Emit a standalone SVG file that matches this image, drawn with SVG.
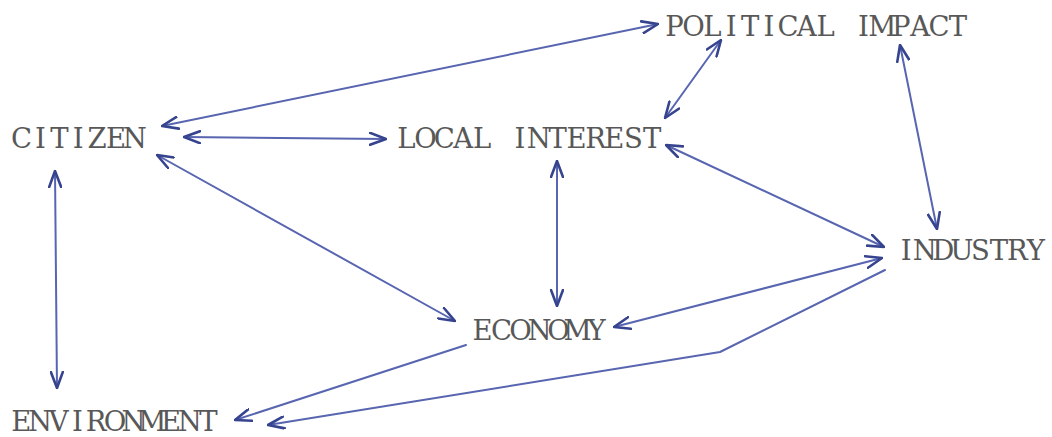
<svg xmlns="http://www.w3.org/2000/svg" width="1052" height="437" viewBox="0 0 1052 437">
  <style>
    .lbl { font-family: "DejaVu Serif", "Liberation Serif", serif; font-size: 27.5px; fill: #585858; text-anchor: middle; }
    .link { fill: none; stroke: #5865b0; stroke-width: 2; stroke-linecap: round; stroke-linejoin: round; }
  </style>
  <defs>
    <!-- open V arrowhead, reused at both ends of two-way links -->
    <marker id="head" viewBox="0 0 18 14" refX="17" refY="7" markerWidth="18" markerHeight="14" markerUnits="userSpaceOnUse" orient="auto-start-reverse">
      <path d="M1,1 L17,7 L1,13" fill="none" stroke="#36438f" stroke-width="2.6" stroke-linecap="round" stroke-linejoin="round"/>
    </marker>
  </defs>
  <rect width="1052" height="437" fill="#ffffff"/>

  <g id="connectors">
    <path class="link" d="M162,126 L658,24" marker-start="url(#head)" marker-end="url(#head)"/>
    <path class="link" d="M184,137 L386,139" marker-start="url(#head)" marker-end="url(#head)"/>
    <path class="link" d="M157,155 L455,321" marker-start="url(#head)" marker-end="url(#head)"/>
    <path class="link" d="M55,171 L57,388" marker-start="url(#head)" marker-end="url(#head)"/>
    <path class="link" d="M721,40 L665,118" marker-start="url(#head)" marker-end="url(#head)"/>
    <path class="link" d="M557,161 L557,306" marker-start="url(#head)" marker-end="url(#head)"/>
    <path class="link" d="M666,145 L884,247" marker-start="url(#head)" marker-end="url(#head)"/>
    <path class="link" d="M900,45 L937,229" marker-start="url(#head)" marker-end="url(#head)"/>
    <path class="link" d="M614,327 L882,258" marker-start="url(#head)" marker-end="url(#head)"/>
    <path class="link" d="M466,345 L235,420" marker-end="url(#head)"/>
    <path class="link" d="M885,270 L720,352 L268,425" marker-end="url(#head)"/>
  </g>

  <!-- typewriter labels: one fixed-pitch cell per character -->
  <g id="node-political-impact"><text class="lbl" x="674.5 693.4 712.3 731.2 750.1 769 787.9 806.8 825.7 844.6 863.5 882.4 901.3 920.2 939.1 958" y="36">POLITICAL IMPACT</text></g>
  <g id="node-citizen"><text class="lbl" x="21.5 40.4 59.3 78.2 97.1 116 134.9" y="148">CITIZEN</text></g>
  <g id="node-local-interest"><text class="lbl" x="406.5 425.4 444.3 463.2 482.1 501 519.9 538.8 557.7 576.6 595.5 614.4 633.3 652.2" y="148">LOCAL INTEREST</text></g>
  <g id="node-industry"><text class="lbl" x="906.3 924.8 943.3 961.8 980.3 998.8 1017.3 1035.8" y="260">INDUSTRY</text></g>
  <g id="node-economy"><text class="lbl" x="482.5 501.5 520.5 539.5 558.5 577.5 596.5" y="340">ECONOMY</text></g>
  <g id="node-environment"><text class="lbl" x="21.4 40.1 58.8 77.5 96.2 114.9 133.6 152.3 171 189.7 208.4" y="431">ENVIRONMENT</text></g>
</svg>
